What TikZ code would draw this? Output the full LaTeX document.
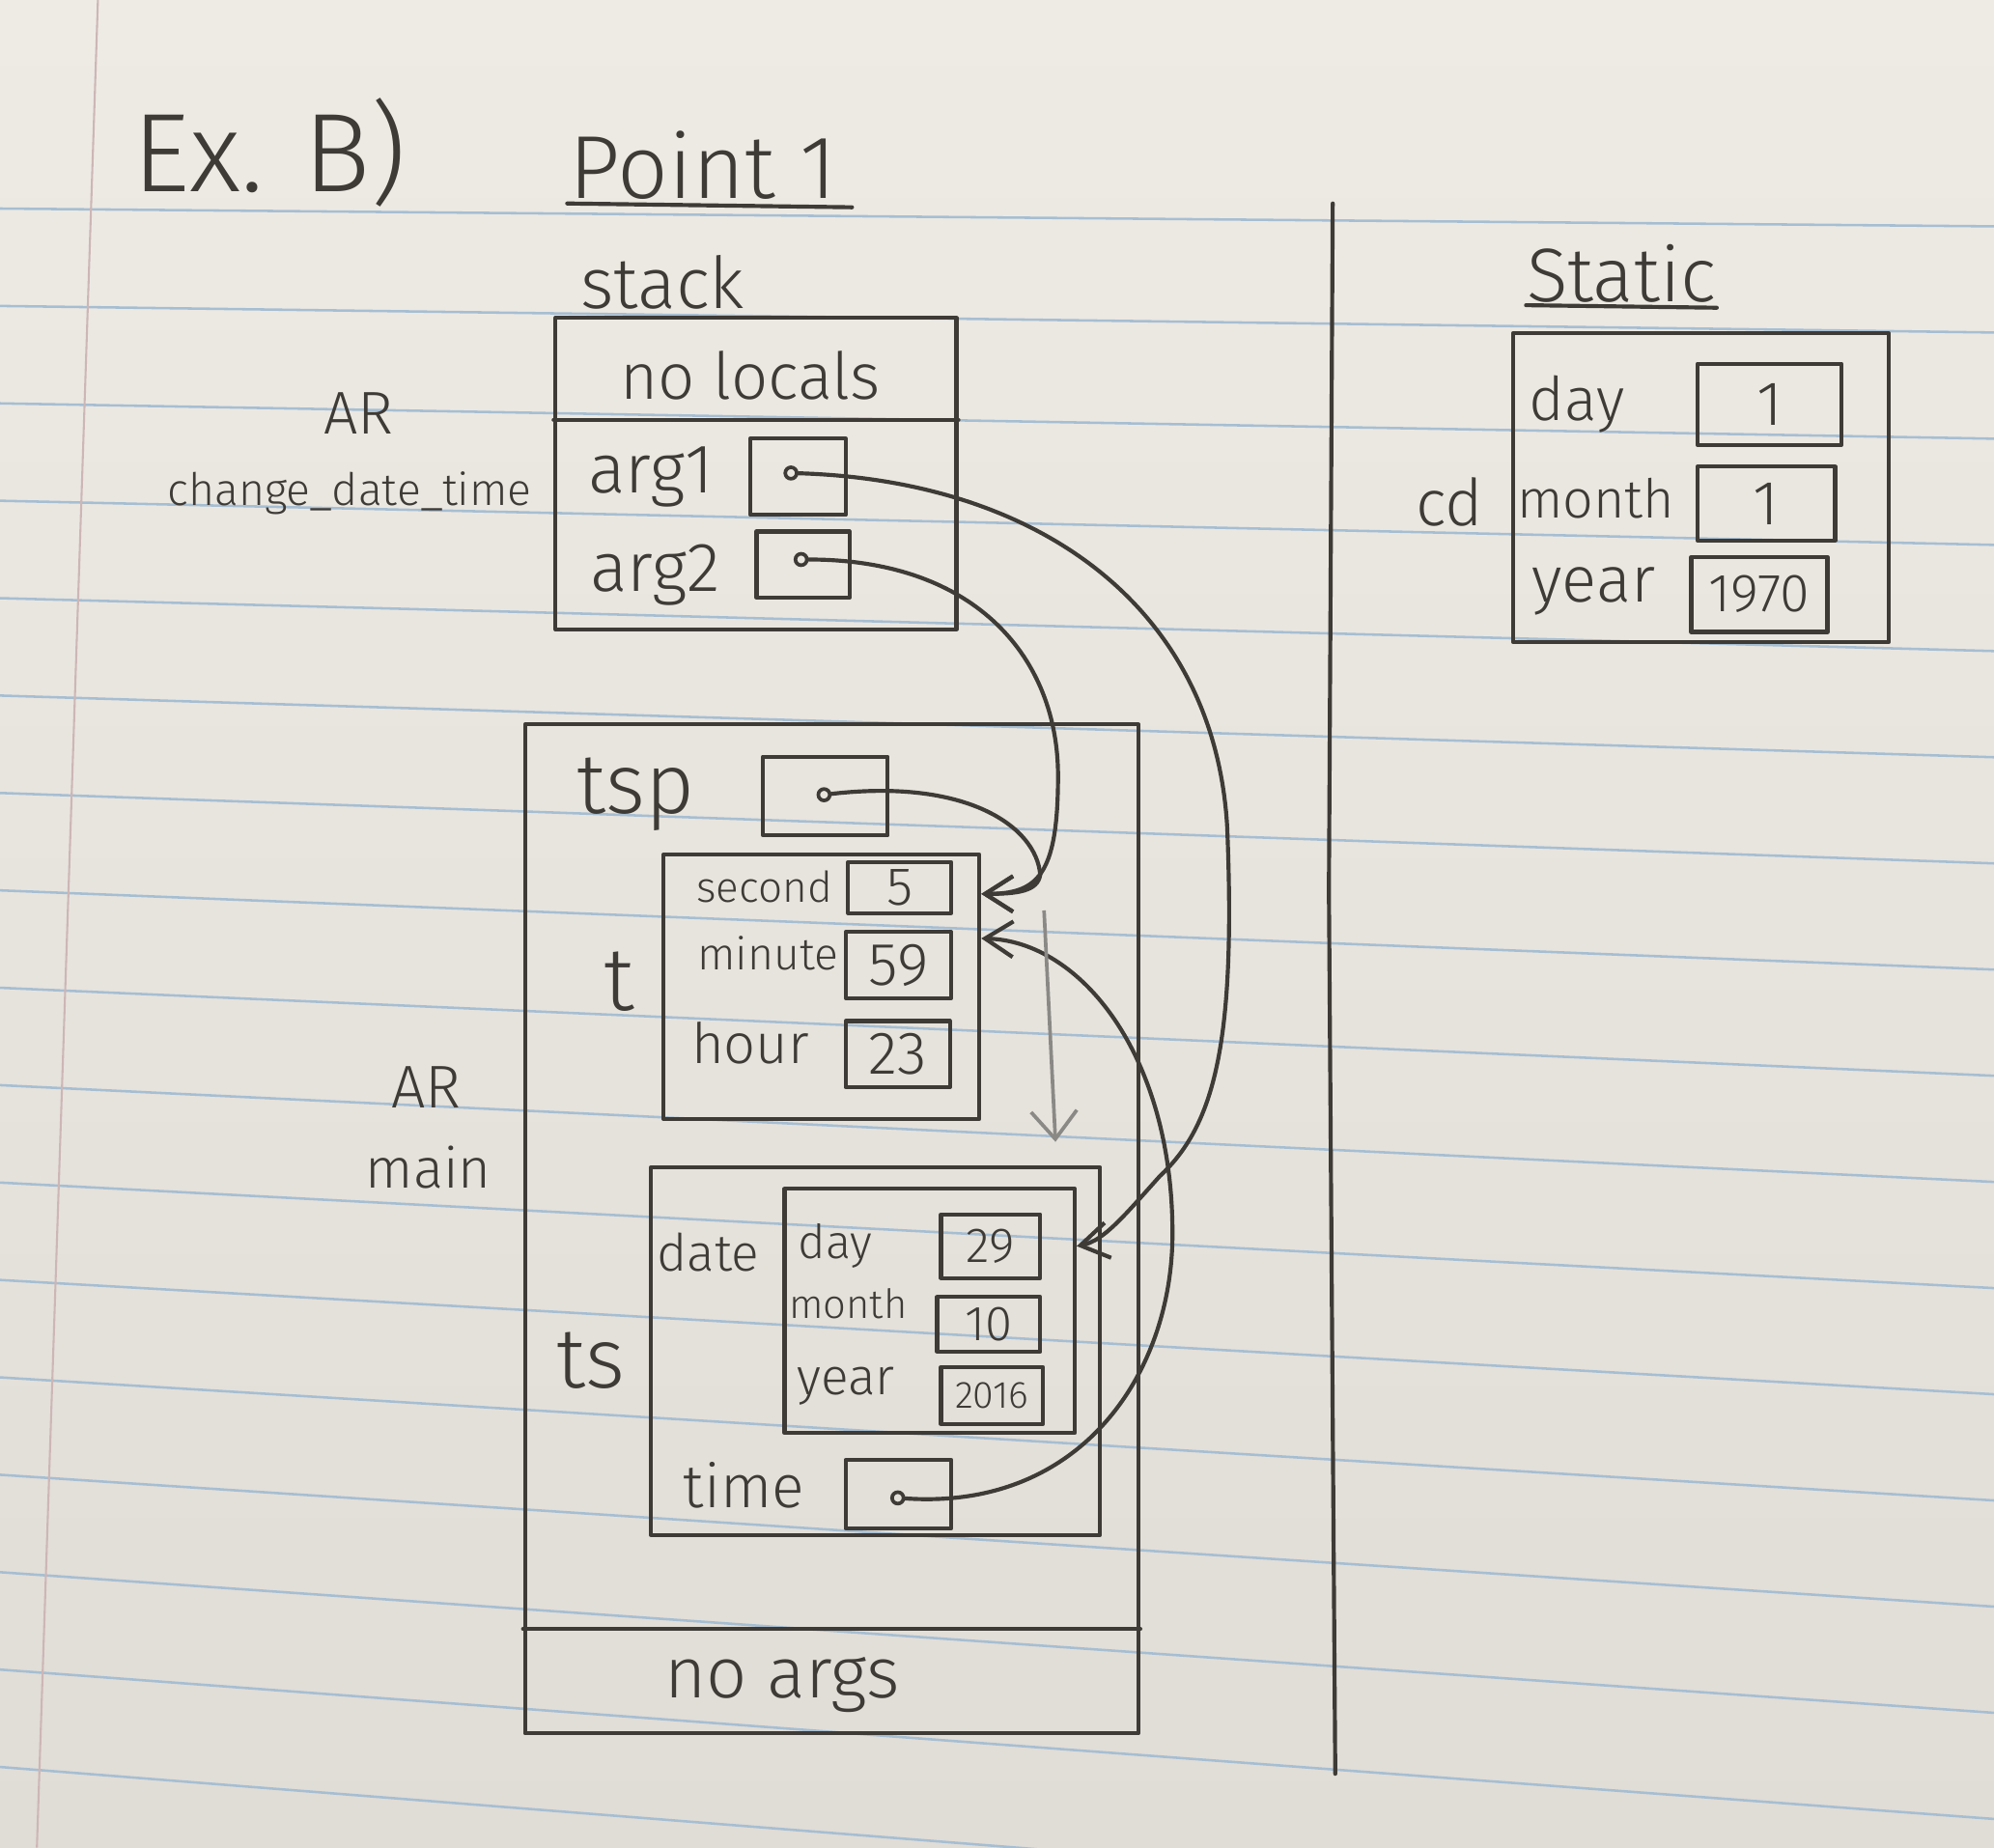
\documentclass[tikz,border=0pt]{standalone}
\usepackage{fontspec}
\setsansfont{Fira Sans Light}
\usetikzlibrary{arrows.meta}
\definecolor{pencil}{RGB}{62,58,54}
\definecolor{paperT}{RGB}{238,235,229}
\definecolor{paperB}{RGB}{224,220,214}
\definecolor{rulecol}{RGB}{166,190,210}
\definecolor{margincol}{RGB}{205,182,182}
\tikzset{
  pen/.style={draw=pencil, line width=0.9pt, line cap=round, line join=round},
  cell/.style={pen, rectangle, inner sep=0pt, text=pencil},
  fs/.style={font=\sffamily\fontsize{#1}{#1}\selectfont},
  lbl/.style={text=pencil, inner sep=0pt},
  ptr/.style={circle, draw=pencil, line width=0.8pt, inner sep=0pt, minimum size=0.9mm},
  arr/.style={pen, -{Straight Barb[length=2.2mm,width=2.8mm]}},
  faint/.style={draw=pencil!60, line width=0.8pt, -{Straight Barb[length=2.2mm,width=3.6mm]}},
}
\begin{document}
\begin{tikzpicture}[x=0.01cm,y=-0.01cm]
% paper
\shade[top color=paperT, bottom color=paperB] (0,0) rectangle (1568,1453);
\useasboundingbox (0,0) rectangle (1568,1453);
\foreach \k in {0,...,16} \draw[rulecol, line width=0.55pt] (0,{164+76.6*\k}) -- (1568,{178+83.5*\k});
\draw[margincol, line width=0.45pt] (77,0) -- (29,1453);

% titles
\node[lbl, fs=25] (exb) at (212,120) {Ex.\hspace{0.35em}B)};
\node[lbl, fs=20] (point) at (553,130) {Point 1};
\draw[pen] (446,160) -- (670,163);
\node[lbl, fs=16] (stacklbl) at (521,222) {stack};
\node[lbl, fs=17] (staticlbl) at (1275,215) {Static};
\draw[pen] (1200,240) -- (1350,242);
\draw[pen] (1048,160) -- (1045,700) -- (1050,1395);

% AR change_date_time
\node[cell, minimum width=3.15cm, minimum height=2.45cm] (cdt) at (594.5,372.5) {};
\draw[pen] (cdt.west |- 0,330) -- (cdt.east |- 0,330);
\node[lbl, fs=14.5] (nolocals) at (590,295) {no locals};
\node[lbl, fs=15.5] (arg1) at (512,375) {arg1};
\node[cell, minimum width=0.75cm, minimum height=0.6cm] (arg1box) at (627.5,375) {};
\node[ptr] (d1) at (622,372) {};
\node[lbl, fs=15.5] (arg2) at (515,452) {arg2};
\node[cell, minimum width=0.73cm, minimum height=0.52cm] (arg2box) at (631.5,444) {};
\node[ptr] (d2) at (630,440) {};
\node[lbl, fs=13.5] (ar1) at (282,325) {AR};
\node[lbl, fs=10] (cdtname) at (275,388) {change\_date\_time};

% AR main
\node[cell, minimum width=4.82cm, minimum height=7.93cm] (mainar) at (654,966.5) {};
\draw[pen] (mainar.west |- 0,1281) -- (mainar.east |- 0,1281);
\node[lbl, fs=16] (noargs) at (615,1325) {no args};
\node[lbl, fs=13.5] (ar2) at (335,855) {AR};
\node[lbl, fs=12.5] (mainname) at (337,918) {main};

\node[lbl, fs=19] (tsplbl) at (500,625) {tsp};
\node[cell, minimum width=0.98cm, minimum height=0.62cm] (tspbox) at (649,626) {};
\node[ptr] (dtsp) at (648,625) {};

% t
\node[cell, minimum width=2.48cm, minimum height=2.08cm] (t) at (646,776) {};
\node[lbl, fs=20] (tlbl) at (487,772) {t};
\node[lbl, fs=9.5] (seclbl) at (601,697) {second};
\node[cell, minimum width=0.81cm, minimum height=0.40cm, fs=12] (box5) at (707.5,698) {5};
\node[lbl, fs=10] (minlbl) at (604,750) {minute};
\node[cell, minimum width=0.83cm, minimum height=0.52cm, fs=13.5] (box59) at (706.5,759) {59};
\node[lbl, fs=12.5] (hourlbl) at (590,820) {hour};
\node[cell, minimum width=0.82cm, minimum height=0.52cm, fs=13.5] (box23) at (706,829) {23};

% ts
\node[cell, minimum width=3.53cm, minimum height=2.89cm] (ts) at (688.5,1062.5) {};
\node[lbl, fs=19] (tslbl) at (465,1070) {ts};
\node[lbl, fs=11.5] (datelbl) at (557,985) {date};
\node[cell, minimum width=2.28cm, minimum height=1.92cm] (date) at (731,1031) {};
\node[lbl, fs=10.5] (daylbl) at (657,980) {day};
\node[cell, minimum width=0.78cm, minimum height=0.5cm, fs=11] (box29) at (779,980) {29};
\node[lbl, fs=9] (monthlbl) at (667,1025) {month};
\node[cell, minimum width=0.81cm, minimum height=0.43cm, fs=11] (box10) at (777.5,1041.5) {10};
\node[lbl, fs=11.5] (yearlbl) at (665,1090) {year};
\node[cell, minimum width=0.8cm, minimum height=0.45cm, fs=8.5] (box2016) at (780,1097.5) {2016};
\node[lbl, fs=13.5] (timelbl) at (585,1168) {time};
\node[cell, minimum width=0.83cm, minimum height=0.54cm] (timebox) at (706.5,1175) {};
\node[ptr] (dtime) at (706,1178) {};

% static
\node[cell, minimum width=2.95cm, minimum height=2.43cm] (cd) at (1337.5,383.5) {};
\node[lbl, fs=14.5] (cdlbl) at (1140,395) {cd};
\node[lbl, fs=13.5] (sdaylbl) at (1240,318) {day};
\node[cell, minimum width=1.13cm, minimum height=0.64cm, fs=14] (sday) at (1391.5,318) {1};
\node[lbl, fs=12] (smonthlbl) at (1255,392) {month};
\node[cell, minimum width=1.08cm, minimum height=0.58cm, fs=14] (smonth) at (1389,396) {1};
\node[lbl, fs=14.5] (syearlbl) at (1253,465) {year};
\node[cell, minimum width=1.07cm, minimum height=0.59cm, fs=12] (syear) at (1383.5,467.5) {1970};

% pointers
\coordinate (tin1) at (t.east |- 0,703);
\coordinate (tin2) at (t.east |- 0,738);
\coordinate (datein) at (date.east |- box29.center);
\coordinate (dashstart) at (821,716);
\coordinate (dashend) at (830,898);

\draw[arr] (d1) .. controls (820,378) and (955,480) .. (965,650) .. controls (972,820) and (955,885) .. (912,925) .. controls (885,955) and (868,976) .. (datein);
\draw[arr] (d2) .. controls (770,440) and (832,520) .. (832,610) .. controls (832,690) and (815,703) .. (tin1);
\draw[arr] (dtsp) .. controls (760,612) and (815,650) .. (818,688) .. controls (816,701) and (800,703) .. (tin1);
\draw[arr] (dtime) .. controls (850,1188) and (922,1080) .. (922,970) .. controls (922,830) and (850,740) .. (tin2);
\draw[faint] (dashstart) -- (dashend);
\end{tikzpicture}
\end{document}
